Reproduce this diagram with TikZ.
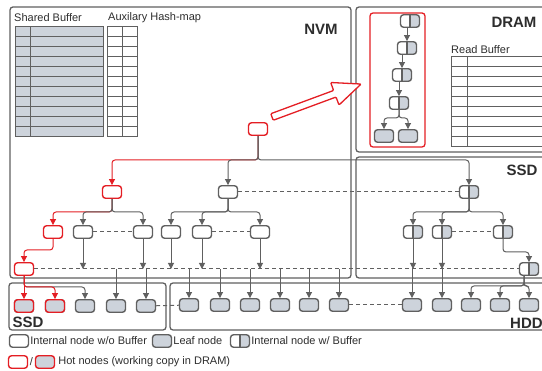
\documentclass[tikz,border=0pt]{standalone}
\usepackage{fontspec}
\setmainfont{Liberation Sans}
\usepackage{xcolor}
\usepackage{tikz}
\usetikzlibrary{arrows.meta}
\definecolor{hotred}{RGB}{228,30,36}
\definecolor{lgray}{RGB}{96,96,96}
\definecolor{leafgray}{RGB}{205,211,219}
\definecolor{txtgray}{RGB}{45,45,45}

\begin{document}
\begin{tikzpicture}[x=1pt, y=-1pt,
    inode/.style={draw=lgray, rectangle, rounded corners=3pt, line width=1.4pt, fill=white,
      minimum width=19pt, minimum height=12.5pt, inner sep=0pt},
    leaf/.style={inode, fill=leafgray},
    bnode/.style={inode, path picture={
        \fill[leafgray] (path picture bounding box.north) rectangle (path picture bounding box.south east);
        \draw[lgray, line width=1.4pt] (path picture bounding box.north) -- (path picture bounding box.south);}},
    hot/.style={draw=hotred},
    conn/.style={draw=lgray, line width=1pt, rounded corners=3pt, -{Triangle[length=6pt, width=6pt]}},
    hotconn/.style={conn, draw=hotred},
    dashline/.style={draw=lgray, line width=1pt, dash pattern=on 4pt off 3pt},
    memory/.style={draw=lgray, line width=1.3pt, rounded corners=3pt},
    tab/.style={draw=lgray, line width=1pt},
    lbl/.style={font=\fontsize{11}{13}\selectfont, text=txtgray, inner sep=1pt, anchor=west},
    title/.style={font=\bfseries\fontsize{15}{15}\selectfont, text=txtgray, inner sep=0pt}]

  \useasboundingbox (0,0) rectangle (542,371);

  % memory boxes
  \draw[memory] (10,7) rectangle (351,278);
  \draw[memory] (356,7) rectangle (548,152);
  \draw[memory] (356,157) rectangle (548,278);
  \draw[memory] (9,283) rectangle (166,330);
  \draw[memory] (170,283) rectangle (548,330);
  \node[title] (nvm) at (321,29) {NVM};
  \node[title] (dram) at (514,22) {DRAM};
  \node[title] (ssdr) at (522,170) {SSD};
  \node[title] (ssdb) at (28,322) {SSD};
  \node[title, anchor=west] (hdd) at (510,323) {HDD};

  % buffers
  \node[lbl] (sblabel) at (13,18) {Shared Buffer};
  \node[lbl] (hmlabel) at (107,18) {Auxilary Hash-map};
  \node[lbl] (rblabel) at (450,50) {Read Buffer};
  \fill[leafgray] (15,27) rectangle (103,137);
  \draw[tab] (15,27) rectangle (103,137) (30,27) -- (30,137);
  \draw[tab] (107,27) rectangle (137,137) (122,27) -- (122,137);
  \foreach \y in {37,47,...,127} {
    \draw[tab] (15,\y) -- (103,\y);
    \draw[tab] (107,\y) -- (137,\y);
  }
  \draw[tab] (451,57) rectangle (548,147) (467,57) -- (467,147);
  \foreach \y in {67,77,...,137}
    \draw[tab] (451,\y) -- (548,\y);

  % working copy in DRAM
  \draw[hotred, line width=1.3pt, rounded corners=3pt] (370,13) rectangle (425,147);
  \node[bnode] (m1) at (410,21) {};
  \node[bnode] (m2) at (407,48) {};
  \node[bnode] (m3) at (402,75) {};
  \node[bnode] (m4) at (399,103) {};
  \node[leaf] (ml1) at (384,136) {};
  \node[leaf] (ml2) at (408,136) {};
  \coordinate (mb) at (399,118);
  \draw[conn] (m2 |- m1.south) -- (m2);
  \draw[conn] (m3 |- m2.south) -- (m3);
  \draw[conn] (m4 |- m3.south) -- (m4);
  \draw[conn] (m4) -- (mb) -| (ml1);
  \draw[conn] (m4) -- (mb) -| (ml2);

  \begin{scope}[shift={(272,117)}, rotate=20.3]
    \draw[hotred, line width=1.3pt, fill=white, rounded corners=1pt]
      (0,-3.5) -- (67,-3.5) -- (67,-12) -- (95,0) -- (67,12) -- (67,3.5) -- (0,3.5) -- cycle;
  \end{scope}

  % tree
  \node[inode, hot] (root) at (258,129) {};
  \node[inode, hot] (A) at (112,192) {};
  \node[inode] (B) at (228,192) {};
  \node[bnode] (C) at (469,192) {};
  \node[inode, hot] (A1) at (53,232) {};
  \node[inode] (A2) at (83,232) {};
  \node[inode] (A3) at (143,232) {};
  \node[inode] (B1) at (171,232) {};
  \node[inode] (B2) at (202,232) {};
  \node[inode] (B3) at (260,232) {};
  \node[bnode] (C1) at (413,232) {};
  \node[bnode] (C2) at (442,232) {};
  \node[bnode] (C3) at (503,232) {};
  \node[inode, hot] (D) at (24,269) {};
  \node[bnode] (E) at (529,269) {};

  \coordinate (r1) at (258,160);
  \coordinate (a1) at (112,212);
  \coordinate (b1) at (228,212);
  \coordinate (c1) at (469,212);
  \coordinate (a2) at (53,250);
  \coordinate (c2) at (503,252);
  \coordinate (d1) at (24,287);
  \coordinate (e1) at (524,286);

  \draw[hotconn] (root) -- (r1) -| (A);
  \draw[conn] (root) -- (r1) -| (B);
  \draw[conn] (root) -- (r1) -| (C);
  \draw[dashline] (B) -- (C);

  \draw[hotconn] (A) -- (a1) -| (A1);
  \draw[conn] (A) -- (a1) -| (A2);
  \draw[conn] (A) -- (a1) -| (A3);
  \draw[conn] (B) -- (b1) -| (B1);
  \draw[conn] (B) -- (b1) -| (B2);
  \draw[conn] (B) -- (b1) -| (B3);
  \draw[conn] (C) -- (c1) -| (C1);
  \draw[conn] (C) -- (c1) -| (C2);
  \draw[conn] (C) -- (c1) -| (C3);
  \draw[dashline] (A2) -- (A3);
  \draw[dashline] (B2) -- (B3);
  \draw[dashline] (C2) -- (C3);

  \draw[hotconn] (A1) -- (a2) -| (D);
  \draw[conn] (C3) -- (c2) -| (E);
  \draw[dashline] (D) -- (E);
  \foreach \n in {A2,A3,B1,B2,B3,C1,C2}
    \draw[conn] (\n) -- (\n |- D);

  % leaves
  \foreach \x [count=\i] in {24,55,85,116,146}
    \node[leaf] (s\i) at (\x,306) {};
  \foreach \x [count=\i] in {189,220,250,280,309,339,412,442,471,500,529}
    \node[leaf] (h\i) at (\x,305) {};
  \node[leaf, hot] at (s1) {};
  \node[leaf, hot] at (s2) {};
  \draw[conn] (D) -- (d1) -| (s3);
  \draw[hotconn] (D) -- (s1);
  \draw[hotconn] (D) -- (d1) -| (s2);
  \draw[conn] (D -| s4) -- (s4);
  \draw[conn] (D -| s5) -- (s5);
  \foreach \i in {1,...,8}
    \draw[conn] (D -| h\i) -- (h\i);
  \foreach \i in {9,10,11}
    \draw[conn] (E.south -| e1) -- (e1) -| (h\i);
  \draw[dashline] (s5) -- (h1);
  \draw[dashline] (h6) -- (h7);

  % legend
  \node[inode] (lg1) at (19,341) {};
  \node[lbl] at (lg1.east) {Internal node w/o Buffer};
  \node[leaf] (lg2) at (162,341) {};
  \node[lbl] at (lg2.east) {Leaf node};
  \node[bnode] (lg3) at (240,341) {};
  \node[lbl] at (lg3.east) {Internal node w/ Buffer};
  \node[inode, hot] (lg4) at (18,362) {};
  \node[lbl, anchor=center] (slash) at (31.5,362) {/};
  \node[leaf, hot] (lg5) at (45,362) {};
  \node[lbl, inner sep=3pt] at (lg5.east) {Hot nodes (working copy in DRAM)};
\end{tikzpicture}
\end{document}
